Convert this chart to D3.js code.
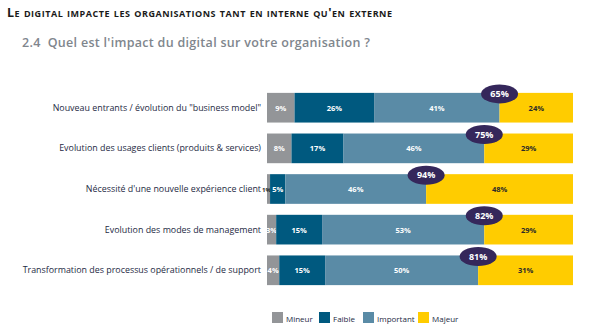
<!DOCTYPE html>
<html lang="fr">
<head>
<meta charset="utf-8"/>
<style>
body { margin: 0; background: #fff; }
text { font-family: "Open Sans", "DejaVu Sans", sans-serif; }
.cat { font-size: 8.9px; fill: #1e2a44; text-anchor: end; }
.seg { font-size: 7.5px; font-weight: 700; text-anchor: middle; }
.bub { font-size: 9px; font-weight: 700; fill: #fff; text-anchor: middle; }
.leg { font-size: 8px; fill: #1e2a44; }
</style>
</head>
<body>
<svg width="600" height="332"></svg>
<script src="https://d3js.org/d3.v7.min.js"></script>
<script>
var categories = [
  'Nouveau entrants / évolution du "business model"',
  'Evolution des usages clients (produits & services)',
  "Nécessité d'une nouvelle expérience client",
  'Evolution des modes de management',
  'Transformation des processus opérationnels / de support'
];
var seriesNames = ["Mineur", "Faible", "Important", "Majeur"];
var mineur    = [9, 8, 1, 3, 4];
var faible    = [26, 17, 5, 15, 15];
var important = [41, 46, 46, 53, 50];
var majeur    = [24, 29, 48, 29, 31];
var colors = ["#939598", "#00597f", "#5a8ba6", "#ffcc00"];
var textColors = ["#fff", "#fff", "#fff", "#2a2a2a"];

var svg = d3.select("svg");

// titles
svg.append("text").attr("x", 7).attr("y", 17)
  .attr("textLength", 385).attr("lengthAdjust", "spacing")
  .style("font-size", "12.5px").style("font-weight", "700").style("fill", "#1a1a1a")
  .style("font-variant", "small-caps")
  .text("Le digital impacte les organisations tant en interne qu'en externe");
svg.append("text").attr("x", 22).attr("y", 47)
  .attr("textLength", 348).attr("lengthAdjust", "spacing")
  .style("font-size", "12.5px").style("font-weight", "600").style("fill", "#80868d")
  .style("white-space", "pre")
  .text("2.4  Quel est l'impact du digital sur votre organisation ?");

var rows = categories.map(function(c, i) {
  return { cat: c, vals: [mineur[i], faible[i], important[i], majeur[i]] };
});

var x = d3.scaleLinear().domain([0, 100]).range([267, 573]);
var y = d3.scaleBand().domain(categories).range([88, 290]).paddingInner(0.27).paddingOuter(0.12);

var g = svg.selectAll("g.row").data(rows).enter().append("g").attr("class", "row");

g.append("text").attr("class", "cat")
  .attr("x", 261)
  .attr("y", function(d) { return y(d.cat) + y.bandwidth() / 2 + 3; })
  .text(function(d) { return d.cat; });

g.each(function(d) {
  var row = d3.select(this);
  var acc = 0;
  d.vals.forEach(function(v, k) {
    var x0 = x(acc), x1 = x(acc + v);
    row.append("rect").attr("x", x0).attr("y", y(d.cat))
      .attr("width", x1 - x0).attr("height", y.bandwidth())
      .attr("fill", colors[k]);
    row.append("text").attr("class", "seg")
      .attr("x", (x0 + x1) / 2 + (v < 2 ? -2 : 0))
      .attr("y", y(d.cat) + y.bandwidth() / 2 + 3)
      .style("fill", v < 2 ? "#2a2a2a" : textColors[k])
      .style("font-size", v < 2 ? "6px" : null)
      .text(v + "%");
    acc += v;
  });
  var bx = x(d.vals[0] + d.vals[1] + d.vals[2]);
  var by = y(d.cat) + 1;
  row.append("ellipse").attr("cx", bx).attr("cy", by).attr("rx", 18.5).attr("ry", 9.5)
    .attr("fill", "#35275b");
  row.append("text").attr("class", "bub").attr("x", bx).attr("y", by + 3.3)
    .text((d.vals[2] + d.vals[3]) + "%");
});

// legend
var legX = [272, 319, 363, 418];
var leg = svg.selectAll("g.leg").data(seriesNames).enter().append("g")
  .attr("transform", function(d, i) { return "translate(" + legX[i] + ",312)"; });
leg.append("rect").attr("width", 11).attr("height", 11)
  .attr("fill", function(d, i) { return colors[i]; });
leg.append("text").attr("class", "leg").attr("x", 14).attr("y", 10).text(function(d) { return d; });
</script>
</body>
</html>
